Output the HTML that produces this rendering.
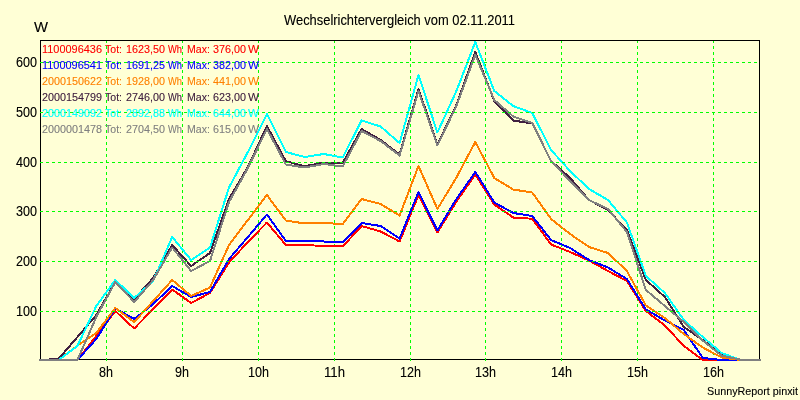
<!DOCTYPE html>
<html><head><meta charset="utf-8"><style>
html,body{margin:0;padding:0;background:#ffffd6;width:800px;height:400px;overflow:hidden;font-family:"Liberation Sans",sans-serif;}
svg{display:block}
</style></head><body>
<svg width="800" height="400" viewBox="0 0 800 400">
<rect x="0" y="0" width="800" height="400" fill="#ffffd6"/>
<rect x="40.5" y="40.5" width="719" height="319" fill="none" stroke="#000" stroke-width="1" shape-rendering="crispEdges"/>
<g stroke="#00ff00" stroke-width="1" stroke-dasharray="3 3" shape-rendering="crispEdges"><line x1="106.5" y1="361" x2="106.5" y2="41"/><line x1="182.5" y1="361" x2="182.5" y2="41"/><line x1="258.5" y1="361" x2="258.5" y2="41"/><line x1="334.5" y1="361" x2="334.5" y2="41"/><line x1="410.5" y1="361" x2="410.5" y2="41"/><line x1="485.5" y1="361" x2="485.5" y2="41"/><line x1="561.5" y1="361" x2="561.5" y2="41"/><line x1="637.5" y1="361" x2="637.5" y2="41"/><line x1="713.5" y1="361" x2="713.5" y2="41"/></g>
<polyline fill="none" stroke="#ff0000" stroke-width="2" stroke-linejoin="round" stroke-linecap="round" shape-rendering="crispEdges" points="39.5,360.00 58.5,360.00 77.4,360.00 96.3,336.00 115.3,311.00 134.2,328.50 153.2,309.00 172.2,289.50 191.1,303.00 210.0,293.00 229.0,262.50 247.9,242.00 266.9,222.50 285.9,245.00 304.8,245.00 323.8,246.00 342.7,246.50 361.6,226.00 380.6,231.50 399.6,241.50 418.5,195.00 437.4,232.50 456.4,201.50 475.3,174.50 494.3,204.50 513.2,217.50 532.2,218.75 551.1,244.50 570.1,252.00 589.0,260.50 608.0,271.00 626.9,281.00 645.9,311.00 664.9,325.50 683.8,346.00 702.8,360.00 721.7,360.00 740.6,360.00 760.6,360.00"/>
<polyline fill="none" stroke="#0000ff" stroke-width="2" stroke-linejoin="round" stroke-linecap="round" shape-rendering="crispEdges" points="39.5,360.00 58.5,360.00 77.4,360.00 96.3,339.00 115.3,308.50 134.2,319.00 153.2,304.00 172.2,286.00 191.1,297.00 210.0,292.00 229.0,259.00 247.9,237.00 266.9,214.50 285.9,241.00 304.8,241.00 323.8,241.50 342.7,242.00 361.6,223.00 380.6,226.00 399.6,238.50 418.5,192.00 437.4,230.50 456.4,199.00 475.3,172.00 494.3,202.50 513.2,213.00 532.2,216.00 551.1,240.00 570.1,248.00 589.0,260.00 608.0,267.50 626.9,279.00 645.9,309.50 664.9,320.50 683.8,330.00 702.8,358.00 721.7,360.00 740.6,360.00 760.6,360.00"/>
<polyline fill="none" stroke="#ff8000" stroke-width="2" stroke-linejoin="round" stroke-linecap="round" shape-rendering="crispEdges" points="39.5,360.00 58.5,360.00 77.4,345.60 96.3,333.00 115.3,308.00 134.2,322.00 153.2,301.00 172.2,280.00 191.1,296.00 210.0,287.50 229.0,245.00 247.9,220.00 266.9,195.00 285.9,220.50 304.8,223.50 323.8,223.00 342.7,224.00 361.6,199.00 380.6,204.00 399.6,215.50 418.5,166.00 437.4,209.00 456.4,177.50 475.3,142.00 494.3,178.00 513.2,189.50 532.2,192.50 551.1,219.00 570.1,234.00 589.0,247.00 608.0,253.00 626.9,271.00 645.9,305.50 664.9,318.00 683.8,334.00 702.8,347.50 721.7,357.50 740.6,360.00 760.6,360.00"/>
<polyline fill="none" stroke="#402040" stroke-width="2" stroke-linejoin="round" stroke-linecap="round" shape-rendering="crispEdges" points="39.5,360.00 58.5,359.00 77.4,337.00 96.3,315.00 115.3,282.00 134.2,299.00 153.2,278.00 172.2,245.00 191.1,266.00 210.0,253.00 229.0,199.00 247.9,167.00 266.9,126.00 285.9,161.25 304.8,166.25 323.8,162.50 342.7,163.00 361.6,129.00 380.6,140.00 399.6,154.50 418.5,89.00 437.4,144.50 456.4,105.00 475.3,52.00 494.3,101.00 513.2,120.50 532.2,123.50 551.1,161.00 570.1,178.00 589.0,200.00 608.0,210.00 626.9,230.00 645.9,280.00 664.9,297.00 683.8,327.00 702.8,340.00 721.7,355.00 740.6,360.00 760.6,360.00"/>
<polyline fill="none" stroke="#00ffff" stroke-width="2" stroke-linejoin="round" stroke-linecap="round" shape-rendering="crispEdges" points="39.5,360.00 58.5,360.00 77.4,346.00 96.3,306.00 115.3,280.00 134.2,298.00 153.2,281.00 172.2,237.00 191.1,260.00 210.0,247.50 229.0,187.50 247.9,152.00 266.9,114.00 285.9,152.00 304.8,157.00 323.8,154.00 342.7,157.50 361.6,120.50 380.6,126.50 399.6,143.00 418.5,75.00 437.4,132.50 456.4,91.00 475.3,42.00 494.3,91.00 513.2,106.00 532.2,113.00 551.1,150.00 570.1,171.00 589.0,189.00 608.0,200.00 626.9,222.50 645.9,276.00 664.9,293.00 683.8,320.00 702.8,337.00 721.7,353.00 740.6,360.00 760.6,360.00"/>
<polyline fill="none" stroke="#808080" stroke-width="2" stroke-linejoin="round" stroke-linecap="round" shape-rendering="crispEdges" points="39.5,360.00 58.5,360.00 77.4,360.00 96.3,317.00 115.3,282.00 134.2,302.00 153.2,280.00 172.2,247.50 191.1,271.00 210.0,261.00 229.0,202.00 247.9,168.00 266.9,129.00 285.9,164.50 304.8,167.50 323.8,164.00 342.7,166.50 361.6,131.00 380.6,141.00 399.6,155.50 418.5,91.00 437.4,145.50 456.4,106.00 475.3,55.00 494.3,100.00 513.2,116.50 532.2,123.00 551.1,161.00 570.1,181.00 589.0,200.00 608.0,209.00 626.9,232.00 645.9,290.00 664.9,306.00 683.8,322.00 702.8,340.60 721.7,355.60 740.6,359.75 760.6,360.00"/>
<g stroke="#00ff00" stroke-width="1" stroke-dasharray="3 3" shape-rendering="crispEdges"><line x1="40" y1="62.5" x2="760" y2="62.5"/><line x1="40" y1="112.5" x2="760" y2="112.5"/><line x1="40" y1="162.5" x2="760" y2="162.5"/><line x1="40" y1="211.5" x2="760" y2="211.5"/><line x1="40" y1="261.5" x2="760" y2="261.5"/><line x1="40" y1="311.5" x2="760" y2="311.5"/></g>
<defs><filter id="crisp" x="0" y="0" width="1" height="1"><feComponentTransfer><feFuncA type="gamma" amplitude="1" exponent="0.8" offset="0"/></feComponentTransfer></filter></defs>
<g font-family="Liberation Sans, sans-serif" filter="url(#crisp)"><text x="42" y="53" fill="#ff0000" font-size="11" textLength="60" lengthAdjust="spacingAndGlyphs">1100096436</text><text x="105" y="53" fill="#ff0000" font-size="11" textLength="17" lengthAdjust="spacingAndGlyphs">Tot:</text><text x="126" y="53" fill="#ff0000" font-size="11" textLength="39" lengthAdjust="spacingAndGlyphs">1623,50</text><text x="168" y="53" fill="#ff0000" font-size="11" textLength="14" lengthAdjust="spacingAndGlyphs">Wh</text><text x="187" y="53" fill="#ff0000" font-size="11" textLength="23" lengthAdjust="spacingAndGlyphs">Max:</text><text x="213" y="53" fill="#ff0000" font-size="11" textLength="33" lengthAdjust="spacingAndGlyphs">376,00</text><text x="248" y="53" fill="#ff0000" font-size="11" textLength="11" lengthAdjust="spacingAndGlyphs">W</text><text x="42" y="69" fill="#0000ff" font-size="11" textLength="60" lengthAdjust="spacingAndGlyphs">1100096541</text><text x="105" y="69" fill="#0000ff" font-size="11" textLength="17" lengthAdjust="spacingAndGlyphs">Tot:</text><text x="126" y="69" fill="#0000ff" font-size="11" textLength="39" lengthAdjust="spacingAndGlyphs">1691,25</text><text x="168" y="69" fill="#0000ff" font-size="11" textLength="14" lengthAdjust="spacingAndGlyphs">Wh</text><text x="187" y="69" fill="#0000ff" font-size="11" textLength="23" lengthAdjust="spacingAndGlyphs">Max:</text><text x="213" y="69" fill="#0000ff" font-size="11" textLength="33" lengthAdjust="spacingAndGlyphs">382,00</text><text x="248" y="69" fill="#0000ff" font-size="11" textLength="11" lengthAdjust="spacingAndGlyphs">W</text><text x="42" y="85" fill="#ff8000" font-size="11" textLength="60" lengthAdjust="spacingAndGlyphs">2000150622</text><text x="105" y="85" fill="#ff8000" font-size="11" textLength="17" lengthAdjust="spacingAndGlyphs">Tot:</text><text x="126" y="85" fill="#ff8000" font-size="11" textLength="39" lengthAdjust="spacingAndGlyphs">1928,00</text><text x="168" y="85" fill="#ff8000" font-size="11" textLength="14" lengthAdjust="spacingAndGlyphs">Wh</text><text x="187" y="85" fill="#ff8000" font-size="11" textLength="23" lengthAdjust="spacingAndGlyphs">Max:</text><text x="213" y="85" fill="#ff8000" font-size="11" textLength="33" lengthAdjust="spacingAndGlyphs">441,00</text><text x="248" y="85" fill="#ff8000" font-size="11" textLength="11" lengthAdjust="spacingAndGlyphs">W</text><text x="42" y="101" fill="#402040" font-size="11" textLength="60" lengthAdjust="spacingAndGlyphs">2000154799</text><text x="105" y="101" fill="#402040" font-size="11" textLength="17" lengthAdjust="spacingAndGlyphs">Tot:</text><text x="126" y="101" fill="#402040" font-size="11" textLength="39" lengthAdjust="spacingAndGlyphs">2746,00</text><text x="168" y="101" fill="#402040" font-size="11" textLength="14" lengthAdjust="spacingAndGlyphs">Wh</text><text x="187" y="101" fill="#402040" font-size="11" textLength="23" lengthAdjust="spacingAndGlyphs">Max:</text><text x="213" y="101" fill="#402040" font-size="11" textLength="33" lengthAdjust="spacingAndGlyphs">623,00</text><text x="248" y="101" fill="#402040" font-size="11" textLength="11" lengthAdjust="spacingAndGlyphs">W</text><text x="42" y="117" fill="#00ffff" font-size="11" textLength="60" lengthAdjust="spacingAndGlyphs">2000149092</text><text x="105" y="117" fill="#00ffff" font-size="11" textLength="17" lengthAdjust="spacingAndGlyphs">Tot:</text><text x="126" y="117" fill="#00ffff" font-size="11" textLength="39" lengthAdjust="spacingAndGlyphs">2892,88</text><text x="168" y="117" fill="#00ffff" font-size="11" textLength="14" lengthAdjust="spacingAndGlyphs">Wh</text><text x="187" y="117" fill="#00ffff" font-size="11" textLength="23" lengthAdjust="spacingAndGlyphs">Max:</text><text x="213" y="117" fill="#00ffff" font-size="11" textLength="33" lengthAdjust="spacingAndGlyphs">644,00</text><text x="248" y="117" fill="#00ffff" font-size="11" textLength="11" lengthAdjust="spacingAndGlyphs">W</text><text x="42" y="133" fill="#808080" font-size="11" textLength="60" lengthAdjust="spacingAndGlyphs">2000001478</text><text x="105" y="133" fill="#808080" font-size="11" textLength="17" lengthAdjust="spacingAndGlyphs">Tot:</text><text x="126" y="133" fill="#808080" font-size="11" textLength="39" lengthAdjust="spacingAndGlyphs">2704,50</text><text x="168" y="133" fill="#808080" font-size="11" textLength="14" lengthAdjust="spacingAndGlyphs">Wh</text><text x="187" y="133" fill="#808080" font-size="11" textLength="23" lengthAdjust="spacingAndGlyphs">Max:</text><text x="213" y="133" fill="#808080" font-size="11" textLength="33" lengthAdjust="spacingAndGlyphs">615,00</text><text x="248" y="133" fill="#808080" font-size="11" textLength="11" lengthAdjust="spacingAndGlyphs">W</text><text x="284" y="25" font-size="14" textLength="231" lengthAdjust="spacingAndGlyphs" fill="#000">Wechselrichtervergleich vom 02.11.2011</text><text x="34" y="32" font-size="14" textLength="14" lengthAdjust="spacingAndGlyphs" fill="#000">W</text><text x="16" y="67" font-size="14" textLength="21" lengthAdjust="spacingAndGlyphs" fill="#000">600</text><text x="16" y="117" font-size="14" textLength="21" lengthAdjust="spacingAndGlyphs" fill="#000">500</text><text x="16" y="167" font-size="14" textLength="21" lengthAdjust="spacingAndGlyphs" fill="#000">400</text><text x="16" y="216" font-size="14" textLength="21" lengthAdjust="spacingAndGlyphs" fill="#000">300</text><text x="16" y="266" font-size="14" textLength="21" lengthAdjust="spacingAndGlyphs" fill="#000">200</text><text x="16" y="316" font-size="14" textLength="21" lengthAdjust="spacingAndGlyphs" fill="#000">100</text><text x="99" y="377" font-size="14" textLength="14" lengthAdjust="spacingAndGlyphs" fill="#000">8h</text><text x="175" y="377" font-size="14" textLength="14" lengthAdjust="spacingAndGlyphs" fill="#000">9h</text><text x="248" y="377" font-size="14" textLength="21" lengthAdjust="spacingAndGlyphs" fill="#000">10h</text><text x="324" y="377" font-size="14" textLength="21" lengthAdjust="spacingAndGlyphs" fill="#000">11h</text><text x="400" y="377" font-size="14" textLength="21" lengthAdjust="spacingAndGlyphs" fill="#000">12h</text><text x="475" y="377" font-size="14" textLength="21" lengthAdjust="spacingAndGlyphs" fill="#000">13h</text><text x="551" y="377" font-size="14" textLength="21" lengthAdjust="spacingAndGlyphs" fill="#000">14h</text><text x="627" y="377" font-size="14" textLength="21" lengthAdjust="spacingAndGlyphs" fill="#000">15h</text><text x="703" y="377" font-size="14" textLength="21" lengthAdjust="spacingAndGlyphs" fill="#000">16h</text><text x="707" y="395" font-size="11" textLength="91" lengthAdjust="spacingAndGlyphs" fill="#000">SunnyReport pinxit</text></g>
</svg>
</body></html>
